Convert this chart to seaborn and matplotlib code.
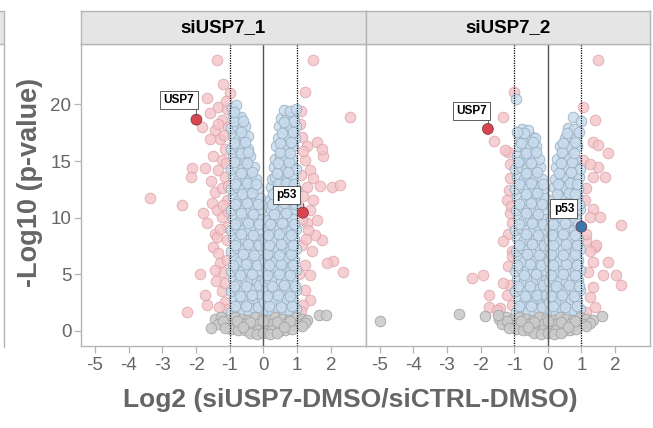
import matplotlib
matplotlib.use("Agg")
import matplotlib.pyplot as plt
import seaborn as sns
import pandas as pd
from matplotlib.patches import Rectangle
from matplotlib.lines import Line2D

sns.set_style("white")
plt.rcParams["font.family"] = ["Liberation Sans", "DejaVu Sans"]

panels = ["siUSP7_1", "siUSP7_2"]
x_ticks = [-5, -4, -3, -2, -1, 0, 1, 2]
y_ticks = [0, 5, 10, 15, 20]
x_label = "Log2 (siUSP7-DMSO/siCTRL-DMSO)"
y_label = "-Log10 (p-value)"

# ---------------- panel 1 : siUSP7_1 ----------------
blue1 = [
    (-0.95, 1.7), (-0.78, 1.9), (-0.60, 1.8), (-0.42, 1.6), (-0.25, 1.9), (-0.08, 1.7),
    (-0.88, 2.8), (-0.70, 2.6), (-0.52, 2.7), (-0.34, 2.9), (-0.16, 2.6), (-0.03, 2.8),
    (-0.96, 3.5), (-0.79, 3.7), (-0.61, 3.6), (-0.43, 3.5), (-0.25, 3.7), (-0.07, 3.6),
    (-0.90, 4.6), (-0.72, 4.4), (-0.54, 4.5), (-0.36, 4.6), (-0.18, 4.4), (-0.04, 4.5),
    (-0.96, 5.3), (-0.80, 5.5), (-0.62, 5.4), (-0.44, 5.3), (-0.26, 5.5), (-0.09, 5.4),
    (-0.88, 6.4), (-0.70, 6.2), (-0.52, 6.3), (-0.34, 6.4), (-0.16, 6.2), (-0.03, 6.3),
    (-0.95, 7.1), (-0.78, 7.3), (-0.60, 7.2), (-0.42, 7.1), (-0.24, 7.3), (-0.07, 7.2),
    (-0.90, 8.2), (-0.72, 8.0), (-0.54, 8.1), (-0.36, 8.2), (-0.19, 8.0), (-0.05, 8.1),
    (-0.96, 8.9), (-0.79, 9.1), (-0.61, 9.0), (-0.43, 8.9), (-0.26, 9.1), (-0.09, 9.0),
    (-0.89, 10.0), (-0.71, 9.8), (-0.53, 9.9), (-0.35, 10.0), (-0.18, 9.8), (-0.05, 9.9),
    (-0.95, 10.7), (-0.77, 10.9), (-0.59, 10.8), (-0.41, 10.7), (-0.24, 10.9), (-0.08, 10.8),
    (-0.90, 11.8), (-0.72, 11.6), (-0.54, 11.7), (-0.36, 11.8), (-0.20, 11.6), (-0.11, 11.7),
    (-0.96, 12.5), (-0.78, 12.7), (-0.60, 12.6), (-0.42, 12.5), (-0.27, 12.7), (-0.16, 12.6),
    (-0.90, 13.6), (-0.72, 13.4), (-0.55, 13.5), (-0.38, 13.6), (-0.22, 13.4),
    (-0.96, 14.3), (-0.79, 14.5), (-0.62, 14.4), (-0.45, 14.3), (-0.29, 14.5),
    (-0.90, 15.4), (-0.73, 15.2), (-0.56, 15.3), (-0.39, 15.4),
    (-0.96, 16.1), (-0.80, 16.3), (-0.63, 16.2), (-0.45, 16.1),
    (-0.90, 17.2), (-0.74, 17.0), (-0.57, 17.1), (-0.47, 17.2),
    (-0.95, 17.9), (-0.80, 18.1), (-0.65, 18.0), (-0.56, 18.1),
    (-0.90, 19.0), (-0.76, 18.8), (-0.66, 18.9),
    (-0.93, 19.7), (-0.82, 19.9),
    (-0.86, 2.2), (-0.51, 2.2), (-0.17, 2.1), (-0.69, 3.1), (-0.33, 3.2), (-0.05, 3.2),
    (-0.87, 4.0), (-0.52, 4.0), (-0.13, 4.1), (-0.71, 4.9), (-0.35, 5.0), (-0.90, 5.8),
    (-0.53, 5.9), (-0.20, 5.8), (-0.61, 6.8), (-0.27, 6.7), (-0.85, 7.6), (-0.47, 7.7),
    (-0.12, 7.6), (-0.66, 8.6), (-0.30, 8.5), (-0.86, 9.4), (-0.46, 9.5), (-0.13, 9.4),
    (-0.66, 10.4), (-0.30, 10.3), (-0.84, 11.2), (-0.49, 11.3), (-0.16, 11.2), (-0.65, 12.1),
    (-0.33, 12.2), (-0.84, 13.0), (-0.50, 13.1), (-0.21, 13.0), (-0.66, 13.9), (-0.35, 14.0),
    (-0.87, 14.9), (-0.50, 14.8), (-0.66, 15.7), (-0.46, 15.8), (-0.87, 16.6), (-0.55, 16.7),
    (-0.67, 17.6), (-0.87, 18.5), (-0.62, 18.5), (-0.88, 19.3),
    (0.08, 1.8), (0.25, 1.6), (0.42, 1.9), (0.60, 1.7), (0.78, 1.8), (0.95, 1.9),
    (0.03, 2.6), (0.16, 2.8), (0.34, 2.7), (0.52, 2.6), (0.70, 2.8), (0.88, 2.7),
    (0.07, 3.7), (0.25, 3.5), (0.43, 3.6), (0.61, 3.7), (0.79, 3.5), (0.96, 3.6),
    (0.04, 4.4), (0.17, 4.6), (0.35, 4.5), (0.53, 4.4), (0.71, 4.6), (0.89, 4.5),
    (0.08, 5.5), (0.26, 5.3), (0.44, 5.4), (0.62, 5.5), (0.80, 5.3), (0.96, 5.4),
    (0.04, 6.2), (0.18, 6.4), (0.36, 6.3), (0.54, 6.2), (0.72, 6.4), (0.90, 6.3),
    (0.07, 7.3), (0.26, 7.1), (0.44, 7.2), (0.62, 7.3), (0.80, 7.1), (0.96, 7.2),
    (0.05, 8.0), (0.19, 8.2), (0.37, 8.1), (0.55, 8.0), (0.73, 8.2), (0.91, 8.1),
    (0.09, 9.1), (0.27, 8.9), (0.45, 9.0), (0.63, 9.1), (0.81, 8.9), (0.96, 9.0),
    (0.13, 9.8), (0.30, 10.0), (0.48, 9.9), (0.66, 9.8), (0.84, 10.0),
    (0.15, 10.9), (0.22, 10.7), (0.40, 10.8), (0.58, 10.9), (0.76, 10.7), (0.94, 10.8),
    (0.19, 11.6), (0.33, 11.8), (0.51, 11.7), (0.69, 11.6), (0.87, 11.8),
    (0.22, 12.7), (0.40, 12.5), (0.58, 12.6), (0.76, 12.7), (0.95, 12.5),
    (0.25, 13.4), (0.35, 13.6), (0.52, 13.5), (0.70, 13.4), (0.88, 13.6),
    (0.30, 14.5), (0.46, 14.3), (0.63, 14.4), (0.80, 14.5), (0.96, 14.3),
    (0.34, 15.2), (0.50, 15.4), (0.67, 15.3), (0.84, 15.2),
    (0.38, 16.3), (0.55, 16.1), (0.72, 16.2), (0.89, 16.3),
    (0.42, 17.0), (0.60, 17.2), (0.77, 17.1), (0.94, 17.0),
    (0.46, 18.1), (0.64, 17.9), (0.81, 18.0), (0.96, 18.1),
    (0.52, 18.8), (0.70, 19.0), (0.87, 18.9),
    (0.62, 19.5), (0.79, 19.4), (0.96, 19.6),
    (0.17, 2.2), (0.51, 2.1), (0.86, 2.2), (0.09, 3.1), (0.43, 3.2), (0.79, 3.1),
    (0.26, 4.0), (0.62, 4.1), (0.94, 4.0), (0.11, 4.9), (0.45, 5.0), (0.80, 4.9),
    (0.17, 5.8), (0.53, 5.9), (0.88, 5.8), (0.10, 6.8), (0.45, 6.7), (0.81, 6.8),
    (0.16, 7.6), (0.53, 7.7), (0.87, 7.6), (0.12, 8.5), (0.46, 8.6), (0.82, 8.5),
    (0.20, 9.4), (0.55, 9.5), (0.90, 9.4), (0.31, 10.3), (0.67, 10.4), (0.25, 11.2),
    (0.60, 11.3), (0.93, 11.2), (0.28, 12.1), (0.60, 12.2), (0.82, 12.1), (0.43, 13.0),
    (0.66, 13.1), (0.90, 13.0), (0.39, 13.9), (0.72, 14.0), (0.42, 14.8), (0.75, 14.9),
    (0.50, 15.8), (0.80, 15.7), (0.50, 16.6), (0.82, 16.7), (0.55, 17.5), (0.88, 17.6),
    (0.60, 18.4), (0.90, 18.5),
]
grey1 = [
    (-1.45, 1.1), (-1.25, 1.2), (-1.05, 1.0), (-0.85, 1.2), (-0.65, 1.1), (-0.45, 1.0),
    (-0.25, 1.2), (-0.05, 1.1), (0.15, 1.0), (0.35, 1.2), (0.55, 1.1), (0.75, 1.0),
    (0.95, 1.2), (1.15, 1.1), (1.30, 1.0),
    (-1.35, 0.6), (-1.15, 0.5), (-0.95, 0.6), (-0.75, 0.5), (-0.55, 0.6), (-0.35, 0.5),
    (-0.15, 0.6), (0.05, 0.5), (0.25, 0.6), (0.45, 0.5), (0.65, 0.6), (0.85, 0.5),
    (1.05, 0.6), (1.22, 0.7),
    (-0.95, 0.2), (-0.75, 0.1), (-0.55, 0.1), (-0.35, 0.0), (-0.15, 0.1), (0.05, 0.0),
    (0.25, 0.1), (0.45, 0.0), (0.65, 0.1), (0.85, 0.2),
    (-0.40, -0.2), (-0.20, -0.25), (0.00, -0.2), (0.20, -0.25), (0.40, -0.2),
    (-1.20, 0.85), (-0.80, 0.85), (-0.40, 0.8), (0.00, 0.85), (0.40, 0.8), (0.80, 0.85),
    (1.15, 0.4), (-1.15, 0.3), (-0.60, 0.35), (0.60, 0.35),
    (-1.56, 0.24), (1.66, 1.4), (1.85, 1.4),
]
pink1 = [
    (-3.37, 11.7), (-2.42, 11.1), (-2.12, 14.4), (-2.15, 13.6), (-2.26, 1.65), (-1.88, 5.0),
    (-1.39, 23.9), (-1.19, 21.8), (-1.67, 20.6), (-0.99, 21.0), (-1.83, 18.0), (-1.59, 19.2),
    (-1.34, 19.8), (-1.24, 18.6), (-1.44, 17.7), (-1.29, 16.9), (-1.14, 16.1), (-1.59, 16.9),
    (-1.49, 15.4), (-1.34, 14.2), (-1.24, 15.1), (-1.14, 13.6), (-1.74, 14.4), (-1.44, 12.3),
    (-1.24, 12.6), (-1.09, 11.6), (-1.79, 10.4), (-1.69, 9.5), (-1.54, 11.3), (-1.39, 10.7),
    (-1.24, 10.1), (-1.09, 9.2), (-1.44, 8.6), (-1.74, 3.2), (-1.67, 2.3), (-1.41, 4.4),
    (-1.49, 7.4), (-1.34, 6.9), (-1.29, 6.0), (-1.19, 5.2), (-1.24, 3.5), (-1.14, 2.6),
    (-1.09, 1.9), (-1.39, 8.3), (-1.09, 8.0), (-1.14, 4.2), (-1.31, 2.1), (-1.09, 6.3),
    (-1.44, 5.4), (-1.05, 18.0), (-1.08, 19.6), (-1.12, 14.8), (-1.06, 12.8), (-1.05, 10.5),
    (-1.18, 17.3), (-1.36, 18.3), (-1.10, 20.3), (-1.55, 13.2), (-1.20, 11.1), (-1.30, 9.0),
    (1.48, 23.9), (1.23, 21.1), (1.13, 17.1), (1.58, 16.7), (1.77, 15.4), (1.73, 16.1),
    (1.28, 16.3), (1.23, 15.1), (1.38, 14.2), (1.48, 13.5), (1.28, 12.7), (1.68, 12.8),
    (2.02, 12.7), (2.27, 12.9), (1.18, 11.9), (1.48, 11.6), (1.38, 10.7), (1.58, 9.8),
    (1.28, 9.5), (2.57, 18.9), (2.07, 6.2), (2.37, 5.2), (1.73, 8.0), (1.88, 6.0),
    (1.44, 7.1), (1.38, 4.9), (1.23, 3.6), (1.38, 2.7), (1.17, 2.3), (1.23, 5.8),
    (1.53, 8.5), (1.14, 7.6), (1.32, 8.9), (1.08, 18.3), (1.10, 13.8), (1.06, 10.9),
    (1.05, 5.0), (1.10, 1.8), (1.12, 19.4), (1.18, 15.9), (1.15, 9.9), (1.25, 8.1),
]
hit1 = [(-1.99, 18.65), (1.17, 10.44)]
hit1_colour = ["#d64550", "#d64550"]

# ---------------- panel 2 : siUSP7_2 ----------------
blue2 = [
    (-0.95, 1.7), (-0.78, 1.9), (-0.60, 1.8), (-0.42, 1.6), (-0.25, 1.9), (-0.08, 1.7),
    (-0.88, 2.8), (-0.70, 2.6), (-0.52, 2.7), (-0.34, 2.9), (-0.16, 2.6), (-0.03, 2.8),
    (-0.96, 3.5), (-0.79, 3.7), (-0.61, 3.6), (-0.43, 3.5), (-0.25, 3.7), (-0.07, 3.6),
    (-0.90, 4.6), (-0.72, 4.4), (-0.54, 4.5), (-0.36, 4.6), (-0.18, 4.4), (-0.04, 4.5),
    (-0.96, 5.3), (-0.80, 5.5), (-0.62, 5.4), (-0.44, 5.3), (-0.26, 5.5), (-0.09, 5.4),
    (-0.88, 6.4), (-0.70, 6.2), (-0.52, 6.3), (-0.34, 6.4), (-0.16, 6.2), (-0.03, 6.3),
    (-0.95, 7.1), (-0.78, 7.3), (-0.60, 7.2), (-0.42, 7.1), (-0.24, 7.3), (-0.07, 7.2),
    (-0.90, 8.2), (-0.72, 8.0), (-0.54, 8.1), (-0.36, 8.2), (-0.19, 8.0), (-0.04, 8.1),
    (-0.96, 8.9), (-0.79, 9.1), (-0.61, 9.0), (-0.43, 8.9), (-0.26, 9.1), (-0.08, 9.0),
    (-0.89, 10.0), (-0.71, 9.8), (-0.53, 9.9), (-0.35, 10.0), (-0.18, 9.8), (-0.05, 9.9),
    (-0.95, 10.7), (-0.77, 10.9), (-0.59, 10.8), (-0.41, 10.7), (-0.24, 10.9), (-0.07, 10.8),
    (-0.90, 11.8), (-0.72, 11.6), (-0.54, 11.7), (-0.36, 11.8), (-0.20, 11.6), (-0.09, 11.7),
    (-0.96, 12.5), (-0.78, 12.7), (-0.60, 12.6), (-0.42, 12.5), (-0.26, 12.7), (-0.12, 12.6),
    (-0.90, 13.6), (-0.72, 13.4), (-0.55, 13.5), (-0.38, 13.6), (-0.17, 13.4),
    (-0.96, 14.3), (-0.79, 14.5), (-0.62, 14.4), (-0.45, 14.3), (-0.22, 14.5),
    (-0.90, 15.4), (-0.73, 15.2), (-0.56, 15.3), (-0.40, 15.4), (-0.26, 15.2),
    (-0.86, 16.3), (-0.69, 16.1), (-0.52, 16.2), (-0.34, 16.3),
    (-0.82, 17.0), (-0.65, 17.2), (-0.48, 17.1), (-0.38, 17.0),
    (-0.78, 17.8), (-0.60, 17.7), (-0.93, 20.5),
    (-0.86, 2.2), (-0.51, 2.2), (-0.17, 2.1), (-0.69, 3.1), (-0.33, 3.2), (-0.05, 3.2),
    (-0.87, 4.0), (-0.52, 4.0), (-0.13, 4.1), (-0.71, 4.9), (-0.35, 5.0), (-0.90, 5.8),
    (-0.53, 5.9), (-0.20, 5.8), (-0.61, 6.8), (-0.27, 6.7), (-0.85, 7.6), (-0.47, 7.7),
    (-0.12, 7.6), (-0.66, 8.6), (-0.30, 8.5), (-0.86, 9.4), (-0.46, 9.5), (-0.13, 9.4),
    (-0.66, 10.4), (-0.30, 10.3), (-0.84, 11.2), (-0.49, 11.3), (-0.16, 11.2), (-0.65, 12.1),
    (-0.33, 12.2), (-0.84, 13.0), (-0.50, 13.1), (-0.15, 13.0), (-0.66, 13.9), (-0.33, 14.0),
    (-0.87, 14.9), (-0.50, 14.8), (-0.64, 15.7), (-0.35, 15.8), (-0.80, 16.6), (-0.45, 16.7),
    (-0.70, 17.5), (-0.90, 17.6),
    (0.08, 1.8), (0.25, 1.6), (0.42, 1.9), (0.60, 1.7), (0.78, 1.8), (0.95, 1.9),
    (0.03, 2.6), (0.16, 2.8), (0.34, 2.7), (0.52, 2.6), (0.70, 2.8), (0.88, 2.7),
    (0.07, 3.7), (0.25, 3.5), (0.43, 3.6), (0.61, 3.7), (0.79, 3.5), (0.96, 3.6),
    (0.04, 4.4), (0.17, 4.6), (0.35, 4.5), (0.53, 4.4), (0.71, 4.6), (0.89, 4.5),
    (0.08, 5.5), (0.26, 5.3), (0.44, 5.4), (0.62, 5.5), (0.80, 5.3), (0.96, 5.4),
    (0.04, 6.2), (0.18, 6.4), (0.36, 6.3), (0.54, 6.2), (0.72, 6.4), (0.90, 6.3),
    (0.07, 7.3), (0.26, 7.1), (0.44, 7.2), (0.62, 7.3), (0.80, 7.1), (0.96, 7.2),
    (0.05, 8.0), (0.19, 8.2), (0.37, 8.1), (0.55, 8.0), (0.73, 8.2), (0.91, 8.1),
    (0.07, 9.1), (0.25, 8.9), (0.43, 9.0), (0.61, 9.1), (0.79, 8.9),
    (0.09, 9.8), (0.27, 10.0), (0.45, 9.9), (0.63, 9.8), (0.81, 10.0),
    (0.12, 10.9), (0.30, 10.7), (0.48, 10.8), (0.66, 10.9), (0.84, 10.7), (0.97, 10.8),
    (0.15, 11.6), (0.33, 11.8), (0.51, 11.7), (0.69, 11.6), (0.87, 11.8),
    (0.18, 12.7), (0.36, 12.5), (0.54, 12.6), (0.72, 12.7), (0.90, 12.5),
    (0.21, 13.4), (0.39, 13.6), (0.57, 13.5), (0.75, 13.4), (0.93, 13.6),
    (0.25, 14.5), (0.42, 14.3), (0.60, 14.4), (0.78, 14.5), (0.95, 14.3),
    (0.29, 15.2), (0.46, 15.4), (0.64, 15.3), (0.82, 15.2),
    (0.36, 16.3), (0.52, 16.1), (0.70, 16.2), (0.88, 16.3),
    (0.50, 17.0), (0.66, 17.2), (0.83, 17.1),
    (0.60, 17.9), (0.78, 17.8), (0.75, 18.9), (1.00, 18.5),
    (0.17, 2.2), (0.51, 2.1), (0.86, 2.2), (0.09, 3.1), (0.43, 3.2), (0.79, 3.1),
    (0.26, 4.0), (0.62, 4.1), (0.94, 4.0), (0.11, 4.9), (0.45, 5.0), (0.80, 4.9),
    (0.17, 5.8), (0.53, 5.9), (0.88, 5.8), (0.10, 6.8), (0.45, 6.7), (0.81, 6.8),
    (0.16, 7.6), (0.53, 7.7), (0.87, 7.6), (0.12, 8.5), (0.46, 8.6), (0.82, 8.5),
    (0.16, 9.4), (0.52, 9.5), (0.90, 9.4), (0.21, 10.3), (0.60, 10.4), (0.22, 11.2),
    (0.58, 11.3), (0.93, 11.2), (0.27, 12.1), (0.62, 12.2), (0.80, 12.1), (0.30, 13.0),
    (0.66, 13.1), (0.88, 13.0), (0.33, 13.9), (0.70, 14.0), (0.38, 14.8), (0.72, 14.9),
    (0.42, 15.8), (0.78, 15.7), (0.45, 16.6), (0.80, 16.7), (0.58, 17.5), (0.92, 17.6),
]
grey2 = [
    (-1.45, 1.1), (-1.25, 1.2), (-1.05, 1.0), (-0.85, 1.2), (-0.65, 1.1), (-0.45, 1.0),
    (-0.25, 1.2), (-0.05, 1.1), (0.15, 1.0), (0.35, 1.2), (0.55, 1.1), (0.75, 1.0),
    (0.95, 1.2), (1.15, 1.1), (1.35, 1.0),
    (-1.35, 0.6), (-1.15, 0.5), (-0.95, 0.6), (-0.75, 0.5), (-0.55, 0.6), (-0.35, 0.5),
    (-0.15, 0.6), (0.05, 0.5), (0.25, 0.6), (0.45, 0.5), (0.65, 0.6), (0.85, 0.5),
    (1.05, 0.6), (1.25, 0.7),
    (-0.95, 0.2), (-0.75, 0.1), (-0.55, 0.1), (-0.35, 0.0), (-0.15, 0.1), (0.05, 0.0),
    (0.25, 0.1), (0.45, 0.0), (0.65, 0.1), (0.85, 0.2),
    (-0.40, -0.2), (-0.20, -0.25), (0.00, -0.2), (0.20, -0.25), (0.40, -0.2),
    (-1.20, 0.85), (-0.80, 0.85), (-0.40, 0.8), (0.00, 0.85), (0.40, 0.8), (0.80, 0.85),
    (1.15, 0.4), (-1.15, 0.3), (-0.60, 0.35), (0.60, 0.35),
    (-4.98, 0.9), (-2.63, 1.5), (-1.86, 1.3), (-1.47, 1.4), (1.60, 1.3),
]
pink2 = [
    (-1.00, 21.1), (-1.34, 18.9), (-1.59, 16.8), (-1.17, 15.8), (-1.27, 16.0), (-1.12, 14.7),
    (-1.12, 13.5), (-1.14, 12.4), (-1.20, 11.6), (-1.12, 10.4), (-1.17, 8.6), (-1.32, 7.9),
    (-1.07, 7.1), (-1.12, 4.1), (-1.22, 3.2), (-1.07, 2.3), (-1.42, 2.0), (-1.17, 5.7),
    (-1.07, 6.6), (-1.32, 4.2), (-2.26, 4.65), (-1.94, 4.9), (-1.74, 3.2), (-1.76, 2.1),
    (-1.51, 1.85), (-1.05, 9.5), (-1.08, 11.0),
    (1.50, 23.9), (1.05, 19.8), (1.40, 18.6), (1.35, 16.7), (1.50, 16.4), (1.79, 15.7),
    (1.50, 14.5), (1.70, 13.6), (1.05, 15.1), (1.25, 14.7), (1.35, 13.6), (1.15, 12.6),
    (1.10, 11.6), (1.35, 10.8), (1.25, 10.1), (1.55, 10.1), (2.19, 9.35), (1.15, 8.0),
    (1.40, 7.4), (1.45, 7.6), (1.79, 6.1), (2.04, 4.9), (2.19, 4.1), (1.65, 4.9),
    (1.15, 8.6), (1.25, 7.1), (1.35, 6.1), (1.20, 5.2), (1.35, 3.9), (1.25, 3.0),
    (1.40, 2.1), (1.15, 1.7),
]
hit2 = [(-1.78, 17.83), (1.00, 9.2)]
hit2_colour = ["#d64550", "#3a79ad"]

labels1 = [("USP7", (-2.51, 20.4), (-1.99, 18.65)), ("p53", (0.67, 12.0), (1.17, 10.44))]
labels2 = [("USP7", (-2.27, 19.4), (-1.78, 17.83)), ("p53", (0.48, 10.8), (1.00, 9.2))]

# ---------------- build tidy frame ----------------
rows = []
for panel, groups in zip(panels, [(pink1, blue1, grey1), (pink2, blue2, grey2)]):
    for gname, pts in zip(["up/down", "sig", "ns"], groups):
        for x, y in pts:
            rows.append({"panel": panel, "group": gname, "x": x, "y": y})
df = pd.DataFrame(rows)

styles = {
    "up/down": dict(color="#f4c4c8", edgecolor="#dca3a9", alpha=0.8, zorder=2),
    "sig": dict(color="#c8dced", edgecolor="#9ab0c2", alpha=0.85, zorder=3),
    "ns": dict(color="#cbcbcb", edgecolor="#a5a5a5", alpha=0.9, zorder=4),
}

W, H = 653, 428
fig = plt.figure(figsize=(W / 100, H / 100), dpi=100)

px_left = [81, 365.7]
px_right = [365.7, 649.7]
px_top, px_bot = 44.3, 345.7
strip_top = 11.0

spine_c = "#b5b5b5"
text_c = "#666666"

for i, panel in enumerate(panels):
    ax = fig.add_axes([px_left[i] / W, 1 - px_bot / H, (px_right[i] - px_left[i]) / W,
                       (px_bot - px_top) / H])
    sub = df[df.panel == panel]
    for g in ["up/down", "sig", "ns"]:
        st = styles[g]
        sns.scatterplot(data=sub[sub.group == g], x="x", y="y", ax=ax, s=58,
                        color=st["color"], edgecolor=st["edgecolor"], linewidth=0.7,
                        alpha=st["alpha"], zorder=st["zorder"], legend=False)
    hits = hit1 if i == 0 else hit2
    cols = hit1_colour if i == 0 else hit2_colour
    hdf = pd.DataFrame({"x": [h[0] for h in hits], "y": [h[1] for h in hits], "c": cols})
    sns.scatterplot(data=hdf, x="x", y="y", hue="c", palette={c: c for c in cols},
                    ax=ax, s=62, edgecolor="#7a3035", linewidth=0.5, legend=False, zorder=6)

    ax.axvline(0, color="#555555", lw=1.0, zorder=5)
    for v in (-1, 1):
        ax.axvline(v, color="black", lw=0.9, ls=(0, (1, 1)), zorder=5)

    for name, (tx, ty), (hx, hy) in (labels1 if i == 0 else labels2):
        ax.plot([hx, hx], [hy + 0.45, ty - 0.75], color="#555555", lw=0.6, zorder=7)
        ax.text(tx, ty, name, ha="center", va="center", fontsize=8.5, fontweight="bold",
                color="black", zorder=8,
                bbox=dict(boxstyle="square,pad=0.28", fc="white", ec="#444444", lw=0.6))

    ax.set_xlim(-5.415, 3.033)
    ax.set_ylim(-1.30, 25.3)
    ax.set_xticks(x_ticks)
    ax.set_xticklabels([str(t) for t in x_ticks])
    ax.set_xlabel("")
    ax.set_ylabel("")
    if i == 0:
        ax.set_yticks(y_ticks)
        ax.set_yticklabels([str(t) for t in y_ticks])
        ax.tick_params(axis="y", direction="out", length=5, width=0.9, color=spine_c,
                       labelsize=13.5, labelcolor=text_c, pad=2, left=True)
    else:
        ax.set_yticks([])
    ax.tick_params(axis="x", direction="out", length=5, width=0.9, color=spine_c,
                   labelsize=13.5, labelcolor=text_c, pad=3, bottom=True)
    for sp in ax.spines.values():
        sp.set_visible(True)
        sp.set_color(spine_c)
        sp.set_linewidth(1.0)

    sax = fig.add_axes([px_left[i] / W, 1 - px_top / H, (px_right[i] - px_left[i]) / W,
                        (px_top - strip_top) / H])
    sax.set_facecolor("#e5e5e5")
    sax.set_xticks([])
    sax.set_yticks([])
    for sp in sax.spines.values():
        sp.set_color(spine_c)
        sp.set_linewidth(1.0)
    sax.text(0.5, 0.5, panel, ha="center", va="center", fontsize=13.5, fontweight="bold",
             color="black", transform=sax.transAxes)

# edge of the neighbouring (cropped) panel on the far left
fig.add_artist(Rectangle((-0.01, 1 - px_top / H), 0.01 + 4.3 / W, (px_top - strip_top) / H,
                         transform=fig.transFigure, facecolor="#e5e5e5", edgecolor=spine_c,
                         lw=1.0))
fig.add_artist(Line2D([3.8 / W, 3.8 / W], [1 - 347 / H, 1 - px_top / H],
                      transform=fig.transFigure, color=spine_c, lw=1.0))

fig.text(350 / W, 1 - 400 / H, x_label, ha="center", va="center", fontsize=19,
         fontweight="bold", color=text_c)
fig.text(30 / W, 1 - 182 / H, y_label, ha="center", va="center", rotation=90,
         fontsize=19.5, fontweight="bold", color=text_c)

fig.savefig("out.png", dpi=100)
